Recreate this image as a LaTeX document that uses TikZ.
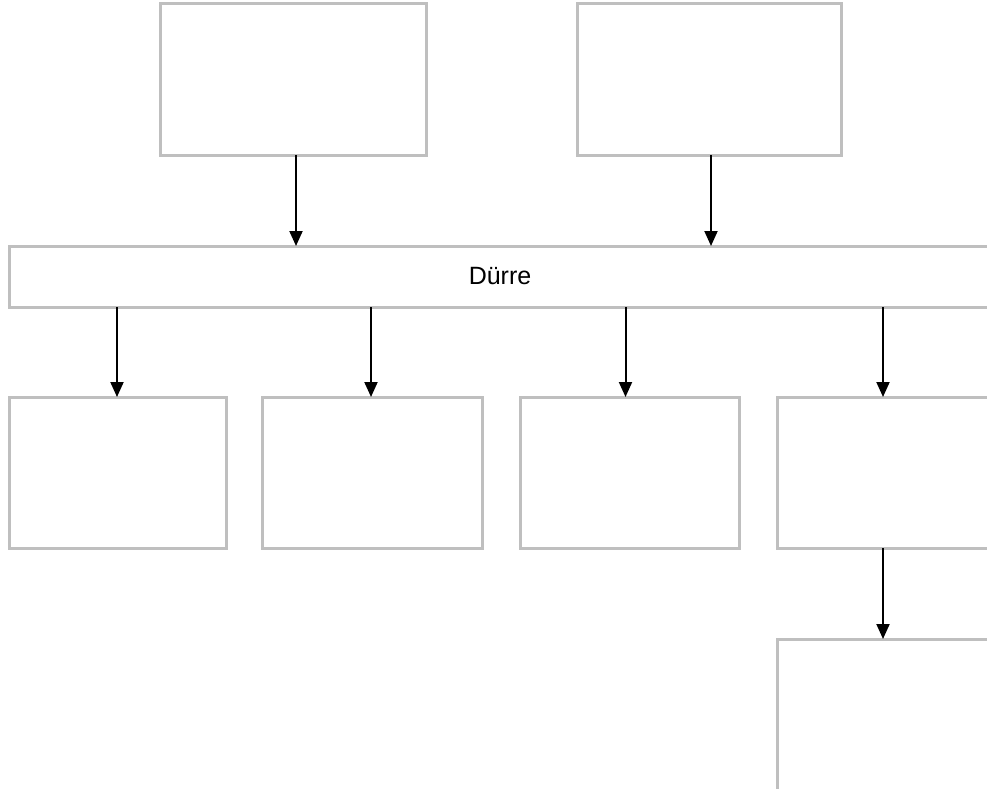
\documentclass[tikz,border=0pt]{standalone}
\usepackage{fontspec}
\setmainfont{Liberation Sans}
\usetikzlibrary{arrows.meta, positioning, calc}

\tikzset{
    box/.style={draw=gray!50, line width=3pt, inner sep=0pt, outer sep=0pt, fill=white},
    arr/.style={-{Triangle[width=13pt,length=15pt]}, line width=2pt, black}
}

\begin{document}
\begin{tikzpicture}[x=1pt, y=-1pt]
    \useasboundingbox (0,0) rectangle (987,789);
    \clip (0,0) rectangle (987,789);

    \node[box, minimum width=266pt, minimum height=151pt] (t1) at (293,79.5) {};
    \node[box, minimum width=264pt, minimum height=151pt] (t2) at (709,79.5) {};

    \node[box, minimum width=982pt, minimum height=61pt, font=\fontsize{25}{30}\selectfont] (durre) at (500,276.5) {Dürre};

    \node[box, minimum width=217pt, minimum height=151pt] (b1) at (117.5,472.5) {};
    \node[box, minimum width=220pt, minimum height=151pt] (b2) at (372,472.5) {};
    \node[box, minimum width=219pt, minimum height=151pt] (b3) at (629.8,472.5) {};
    \node[box, minimum width=214pt, minimum height=151pt] (b4) at (884,472.5) {};

    \node[box, minimum width=214pt, minimum height=151pt] (b5) at (884,714.5) {};

    \draw[arr] (296,0 |- t1.south) -- (296,0 |- durre.north);
    \draw[arr] (711,0 |- t2.south) -- (711,0 |- durre.north);

    \draw[arr] (117,0 |- durre.south) -- (117,0 |- b1.north);
    \draw[arr] (371,0 |- durre.south) -- (371,0 |- b2.north);
    \draw[arr] (625.5,0 |- durre.south) -- (625.5,0 |- b3.north);
    \draw[arr] (883,0 |- durre.south) -- (883,0 |- b4.north);

    \draw[arr] (883,0 |- b4.south) -- (883,0 |- b5.north);
\end{tikzpicture}
\end{document}
